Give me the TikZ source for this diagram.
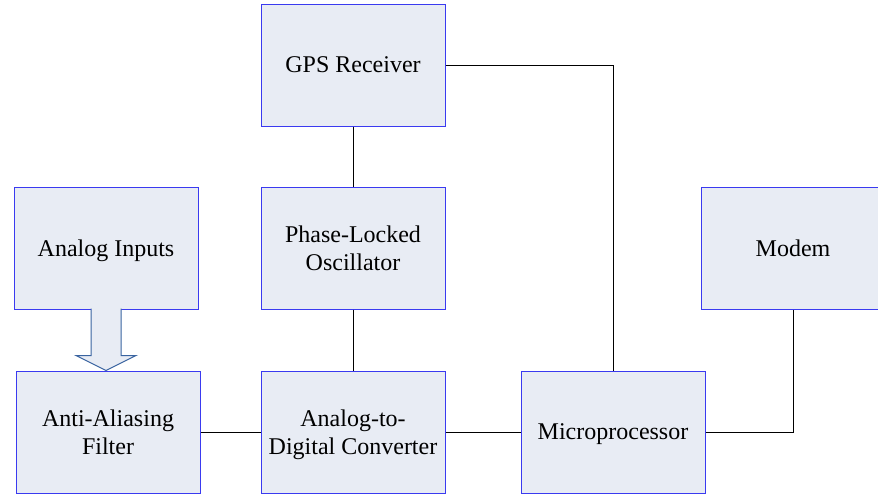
\documentclass[tikz,border=0pt]{standalone}
\usepackage{fontspec}
\setmainfont{Liberation Serif}
\usepackage{tikz}
\usetikzlibrary{positioning,calc}
\definecolor{boxFill}{HTML}{E8ECF4}
\definecolor{boxEdge}{HTML}{3A3AF0}
\definecolor{arrowEdge}{HTML}{3A64A0}

\tikzset{
  block/.style={draw=boxEdge, fill=boxFill, line width=0.5pt, minimum width=92pt,
    minimum height=61pt, inner sep=0pt, text depth=0pt, align=center,
    font=\fontsize{12}{14}\selectfont},
  wire/.style={draw=black, line width=0.5pt},
  bigarrow/.style={draw=arrowEdge, fill=boxFill, line width=0.5pt, line join=miter},
}

\begin{document}
\begin{tikzpicture}[x=0.5pt, y=-0.5pt]
  \useasboundingbox (0,0) rectangle (878,494);
  \clip (0,0) rectangle (878,494);

  \node[block] (gps) at (353,65) {GPS Receiver};
  \node[block] (plo) at (353,248) {Phase-Locked\\Oscillator};
  \node[block] (ain) at (106,248) {Analog Inputs};
  \node[block] (modem) at (793,248) {Modem};
  \node[block] (aaf) at (108,432) {Anti-Aliasing\\Filter};
  \node[block] (adc) at (353,432) {Analog-to-\\Digital Converter};
  \node[block] (mcu) at (613,432) {Microprocessor};

  % block arrow from the inputs into the filter
  \coordinate (tip) at (ain.south |- aaf.north);
  \path[bigarrow] ($(ain.south)+(-15,-1)$) -- ($(tip)+(-15,-15)$) -- ($(tip)+(-30,-15)$)
    -- (tip) -- ($(tip)+(30,-15)$) -- ($(tip)+(15,-15)$) -- ($(ain.south)+(15,-1)$);

  \draw[wire] (gps) -- (plo);
  \draw[wire] (plo) -- (adc);
  \draw[wire] (aaf) -- (adc);
  \draw[wire] (adc) -- (mcu);
  \draw[wire] (gps.east) -| (mcu.north);
  \draw[wire] (mcu.east) -| (modem.south);
\end{tikzpicture}
\end{document}
